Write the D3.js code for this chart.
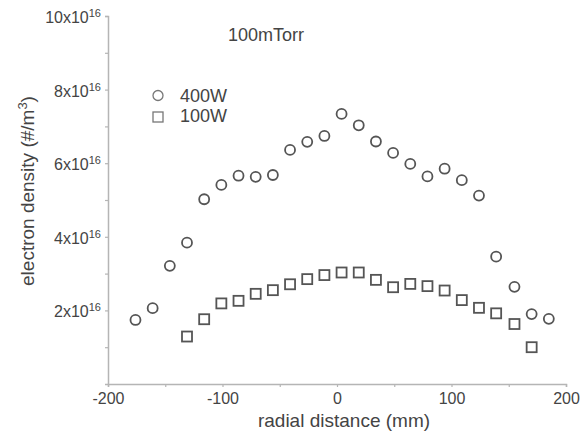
<!DOCTYPE html>
<html>
<head>
<meta charset="utf-8">
<script src="https://cdn.jsdelivr.net/npm/d3@7"></script>
<style>
  html, body { margin: 0; padding: 0; background: #fff; }
  svg { display: block; }
  text { font-family: "Liberation Sans", Arial, Helvetica, sans-serif; fill: #444; }
</style>
</head>
<body>
<svg id="chart" width="583" height="435"></svg>
<script>
// ---- data (electron density in units of 1e16 #/m^3) ----
const radius400 = [-176, -161, -146, -131, -116, -101, -86, -71, -56, -41, -26, -11, 4, 19, 34, 49, 64, 79, 94, 109, 124, 139, 155, 170, 185];
const density400 = [1.74, 2.06, 3.21, 3.84, 5.02, 5.41, 5.66, 5.63, 5.68, 6.36, 6.58, 6.74, 7.34, 7.03, 6.59, 6.28, 5.98, 5.64, 5.85, 5.54, 5.12, 3.46, 2.64, 1.90, 1.77];
const radius100 = [-131, -116, -101, -86, -71, -56, -41, -26, -11, 4, 19, 34, 49, 64, 79, 94, 109, 124, 139, 155, 170];
const density100 = [1.29, 1.76, 2.19, 2.26, 2.45, 2.55, 2.71, 2.85, 2.96, 3.03, 3.03, 2.83, 2.63, 2.72, 2.66, 2.54, 2.28, 2.07, 1.92, 1.63, 1.00];
const xMajorTicks = [-200, -100, 0, 100, 200];
const xMinorTicks = [-150, -50, 50, 150];
const yMajorTicks = [2, 4, 6, 8, 10];
const yMinorTicks = [1, 3, 5, 7, 9];
const yTickExponent = "16";
const legendLabels = ["400W", "100W"];
const titleText = "100mTorr";

const svg = d3.select("#chart");
const x = d3.scaleLinear().domain([-200, 200]).range([108, 566]);
const y = d3.scaleLinear().domain([0, 10]).range([384, 16]);

const axisColor = "#b5b5b5";
const markColor = "#555";

// x axis (major with labels)
const gx = svg.append("g").attr("transform", `translate(0,${y(0)})`);
gx.call(d3.axisBottom(x).tickValues(xMajorTicks).tickSize(3).tickPadding(6).tickFormat(d3.format("d")));
gx.selectAll(".tick text").attr("font-size", "16px").attr("fill", "#444")
  .attr("font-family", "Liberation Sans, Arial, sans-serif")
  .text(d => String(d));
// x minor ticks
const gxm = svg.append("g").attr("transform", `translate(0,${y(0)})`);
gxm.call(d3.axisBottom(x).tickValues(xMinorTicks).tickSize(3).tickFormat(() => ""));
gxm.select(".domain").remove();

// y axis
const gy = svg.append("g").attr("transform", `translate(${x(-200)},0)`);
gy.call(d3.axisLeft(y).tickValues(yMajorTicks).tickSize(3).tickFormat(() => ""));
const gym = svg.append("g").attr("transform", `translate(${x(-200)},0)`);
gym.call(d3.axisLeft(y).tickValues(yMinorTicks).tickSize(3).tickFormat(() => ""));
gym.select(".domain").remove();

svg.selectAll(".domain").attr("stroke", axisColor).attr("stroke-width", 1.5);
svg.selectAll(".tick line").attr("stroke", axisColor).attr("stroke-width", 1.2);

// y tick labels with superscript
const yLabels = svg.append("g");
yMajorTicks.forEach(v => {
  const t = yLabels.append("text")
    .attr("x", x(-200) - 7)
    .attr("y", y(v) + 7)
    .attr("text-anchor", "end")
    .attr("font-size", "16px");
  t.append("tspan").text(`${v}x10`);
  t.append("tspan").attr("dy", -6).attr("font-size", "11px").text(yTickExponent);
});

// axis titles
svg.append("text")
  .attr("x", 344).attr("y", 427)
  .attr("text-anchor", "middle")
  .attr("font-size", "19px")
  .text("radial distance (mm)");

const yt = svg.append("text")
  .attr("transform", `translate(34,${191}) rotate(-90)`)
  .attr("text-anchor", "middle")
  .attr("font-size", "19px");
yt.append("tspan").text("electron density (#/m");
yt.append("tspan").attr("dy", -7).attr("font-size", "13px").text("3");
yt.append("tspan").attr("dy", 7).text(")");

// title
svg.append("text").attr("x", 228).attr("y", 41).attr("font-size", "18px").text(titleText);

// data: 400W circles
svg.append("g").selectAll("circle")
  .data(radius400.map((r, i) => ({ r, v: density400[i] })))
  .join("circle")
  .attr("cx", d => x(d.r)).attr("cy", d => y(d.v)).attr("r", 5)
  .attr("fill", "none").attr("stroke", markColor).attr("stroke-width", 1.8);

// data: 100W squares
const sq = 10;
svg.append("g").selectAll("rect")
  .data(radius100.map((r, i) => ({ r, v: density100[i] })))
  .join("rect")
  .attr("x", d => x(d.r) - sq / 2).attr("y", d => y(d.v) - sq / 2)
  .attr("width", sq).attr("height", sq)
  .attr("fill", "none").attr("stroke", markColor).attr("stroke-width", 1.8);

// legend
const lg = svg.append("g");
lg.append("circle").attr("cx", 158).attr("cy", 95.5).attr("r", 5)
  .attr("fill", "none").attr("stroke", "#777").attr("stroke-width", 1.3);
lg.append("rect").attr("x", 153).attr("y", 112).attr("width", 10).attr("height", 10)
  .attr("fill", "none").attr("stroke", "#777").attr("stroke-width", 1.3);
lg.append("text").attr("x", 180).attr("y", 102).attr("font-size", "18px").text(legendLabels[0]);
lg.append("text").attr("x", 180).attr("y", 122).attr("font-size", "18px").text(legendLabels[1]);
</script>
</body>
</html>
